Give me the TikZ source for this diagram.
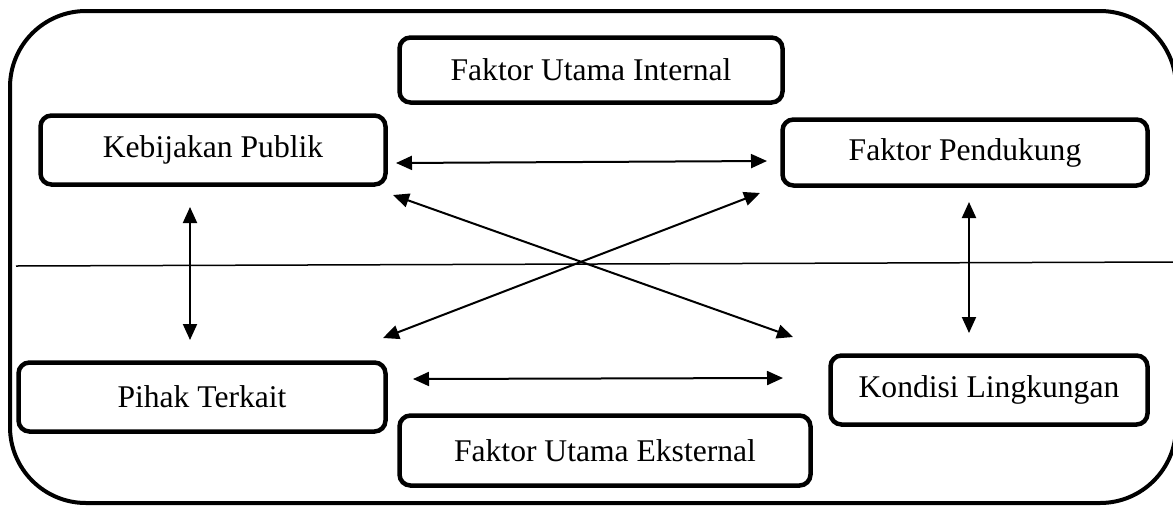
\documentclass[tikz,border=0pt]{standalone}
\usepackage{fontspec}
\setmainfont{Liberation Serif}
\usetikzlibrary{arrows.meta}
\begin{document}
\begin{tikzpicture}[x=1pt,y=-1pt,
  box/.style={draw, line width=4.5pt, rounded corners=11pt, inner sep=0pt,
    font=\fontsize{31.6}{36}\selectfont},
  link/.style={line width=2pt, {Triangle[length=16pt,width=14pt]}-{Triangle[length=16pt,width=14pt]}}]
\useasboundingbox (0,0) rectangle (1173,507);
\fill[white] (0,0) rectangle (1173,507);
% outer frame
\draw[line width=4pt, rounded corners=76pt] (10,11) rectangle (1176,503);
% horizontal divider
\coordinate (hl) at (16,266);
\coordinate (hr) at (1175,262);
\draw[line width=1.5pt] (hl) -- (hr);
% boxes
\node[box, minimum width=345pt, minimum height=69pt] (kp) at (213,150) {Kebijakan Publik};
\node[box, minimum width=383pt, minimum height=65pt] (fui) at (591,70) {Faktor Utama Internal};
\node[box, minimum width=365pt, minimum height=66pt] (fp) at (965,152.5) {Faktor Pendukung};
\node[box, minimum width=367pt, minimum height=69pt] (pt) at (202,397) {Pihak Terkait};
\node[box, minimum width=411pt, minimum height=70pt] (fue) at (605,450.5) {Faktor Utama Eksternal};
\node[box, minimum width=317pt, minimum height=69pt] (kl) at (989,390) {Kondisi Lingkungan};
% arrow ends
\coordinate (a1) at (396,163);
\coordinate (a2) at (767,161);
\coordinate (b1) at (393,195);
\coordinate (b2) at (793,337);
\coordinate (c1) at (383,338);
\coordinate (c2) at (760,193);
\coordinate (d1) at (413,379);
\coordinate (d2) at (783,378);
\coordinate (e1) at (190,207);
\coordinate (e2) at (190,340);
\coordinate (f1) at (969,202);
\coordinate (f2) at (969,333);
\draw[link] (a1) -- (a2);
\draw[link] (b1) -- (b2);
\draw[link] (c1) -- (c2);
\draw[link] (d1) -- (d2);
\draw[link] (e1) -- (e2);
\draw[link] (f1) -- (f2);
\end{tikzpicture}
\end{document}
